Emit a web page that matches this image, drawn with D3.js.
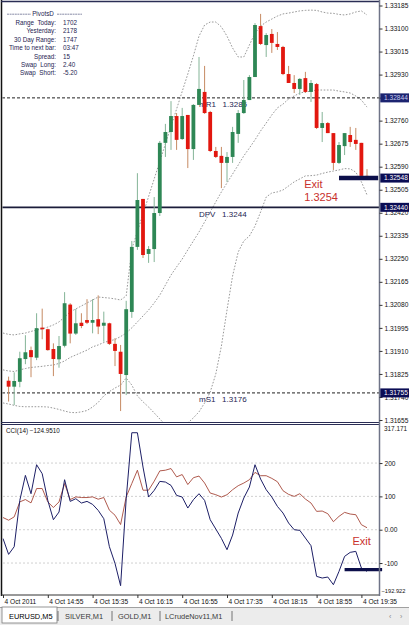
<!DOCTYPE html>
<html>
<head>
<meta charset="utf-8">
<script src="https://cdn.jsdelivr.net/npm/d3@7"></script>
<style>
html, body { margin: 0; padding: 0; background: #fff; }
svg { display: block; font-family: "Liberation Sans", Arial, sans-serif; }
</style>
</head>
<body>
<svg id="chart" width="409" height="625"></svg>
<script>
// EURUSD M5, 4 Oct 2011, one bar every 5 minutes starting 14:15
var timeTicks = [0, 8, 16, 24, 32, 40, 48, 56, 64];
var timeLabels = ["4 Oct 2011", "4 Oct 14:55", "4 Oct 15:35", "4 Oct 16:15", "4 Oct 16:55",
                  "4 Oct 17:35", "4 Oct 18:15", "4 Oct 18:55", "4 Oct 19:35"];

var opens = [null, 1.31800, 1.31778, 1.31796, 1.31880, 1.31913, 1.31885, 1.31996, 1.31990, 1.31917,
  1.31879, 1.31929, 1.32081, 1.31974, 1.32014, 1.32024, 1.32014, 1.32027, 1.32003, 1.32012,
  1.31936, 1.31907, 1.31821, 1.32054, 1.32294, 1.32471, 1.32268, 1.32286, 1.32419, 1.32678,
  1.32718, 1.32777, 1.32692, 1.32781, 1.32655, 1.32818, 1.32866, 1.32792, 1.32648, 1.32630,
  1.32604, 1.32626, 1.32711, 1.32788, 1.32836, 1.32921, 1.33109, 1.33039, 1.33080, 1.33043,
  1.33032, 1.32932, 1.32899, 1.32877, 1.32917, 1.32866, 1.32895, 1.32733, 1.32751, 1.32714,
  1.32604, 1.32666, 1.32707, 1.32689, 1.32678, 1.32556];
var highs = [null, 1.31815, 1.31831, 1.31907, 1.31968, 1.31926, 1.32049, 1.32066, 1.31992, 1.31938,
  1.31965, 1.32127, 1.32086, 1.32065, 1.32049, 1.32101, 1.32101, 1.32115, 1.32055, 1.32014,
  1.31957, 1.31932, 1.32095, 1.32316, 1.32566, 1.32471, 1.32297, 1.32478, 1.32685, 1.32748,
  1.32832, 1.32788, 1.32807, 1.32781, 1.32821, 1.32995, 1.32962, 1.32796, 1.32663, 1.32663,
  1.32644, 1.32737, 1.32799, 1.32910, 1.32928, 1.33120, 1.33154, 1.33083, 1.33098, 1.33087,
  1.33036, 1.32962, 1.32928, 1.32917, 1.32940, 1.32910, 1.32899, 1.32792, 1.32755, 1.32714,
  1.32681, 1.32714, 1.32737, 1.32733, 1.32678, 1.32581];
var lows = [null, 1.31723, 1.31710, 1.31776, 1.31861, 1.31813, 1.31876, 1.31953, 1.31911, 1.31817,
  1.31848, 1.31923, 1.31938, 1.31969, 1.31994, 1.32009, 1.31975, 1.31972, 1.31944, 1.31932,
  1.31854, 1.31688, 1.31747, 1.32032, 1.32283, 1.32253, 1.32235, 1.32238, 1.32408, 1.32626,
  1.32652, 1.32652, 1.32689, 1.32585, 1.32615, 1.32818, 1.32785, 1.32644, 1.32622, 1.32511,
  1.32534, 1.32604, 1.32678, 1.32785, 1.32836, 1.32921, 1.33039, 1.32995, 1.33010, 1.33021,
  1.32928, 1.32899, 1.32862, 1.32855, 1.32862, 1.32829, 1.32729, 1.32681, 1.32714, 1.32578,
  1.32600, 1.32633, 1.32663, 1.32652, 1.32552, 1.32548];
var closes = [null, 1.31778, 1.31799, 1.31883, 1.31905, 1.31887, 1.31994, 1.31990, 1.31913, 1.31880,
  1.31928, 1.32086, 1.31974, 1.32012, 1.32002, 1.32014, 1.32024, 1.32000, 1.32014, 1.31936,
  1.31910, 1.31825, 1.32064, 1.32294, 1.32467, 1.32264, 1.32286, 1.32419, 1.32678, 1.32718,
  1.32777, 1.32689, 1.32777, 1.32655, 1.32818, 1.32877, 1.32788, 1.32648, 1.32626, 1.32604,
  1.32626, 1.32718, 1.32788, 1.32836, 1.32921, 1.33113, 1.33043, 1.33076, 1.33047, 1.33032,
  1.32932, 1.32899, 1.32877, 1.32914, 1.32866, 1.32899, 1.32733, 1.32751, 1.32714, 1.32604,
  1.32670, 1.32714, 1.32681, 1.32674, 1.32556, 1.32548];

// bollinger bands (dotted)
var bandUpper = [1.31976, 1.31971, 1.31969, 1.31973, 1.31976, 1.31982, 1.31987, 1.31991, 1.31998, 1.32006,
  1.32017, 1.32035, 1.32054, 1.32065, 1.32076, 1.32087, 1.32098, 1.32109, 1.32107, 1.32105,
  1.32102, 1.32098, 1.32113, 1.32286, 1.32351, 1.32415, 1.32480, 1.32545, 1.32610, 1.32674,
  1.32739, 1.32803, 1.32868, 1.32932, 1.32999, 1.33072, 1.33113, 1.33124, 1.33124, 1.33106,
  1.33072, 1.33028, 1.32995, 1.32995, 1.33039, 1.33083, 1.33109, 1.33124, 1.33135, 1.33146,
  1.33154, 1.33157, 1.33161, 1.33165, 1.33167, 1.33168, 1.33167, 1.33161, 1.33157, 1.33156,
  1.33152, 1.33150, 1.33154, 1.33161, 1.33165, 1.33150];
var bandMiddle = [1.31840, 1.31836, 1.31834, 1.31840, 1.31845, 1.31849, 1.31851, 1.31853, 1.31856, 1.31858,
  1.31864, 1.31873, 1.31886, 1.31895, 1.31904, 1.31913, 1.31925, 1.31932, 1.31941, 1.31947,
  1.31952, 1.31963, 1.31976, 1.31995, 1.32017, 1.32039, 1.32061, 1.32087, 1.32116, 1.32153,
  1.32190, 1.32220, 1.32249, 1.32283, 1.32316, 1.32349, 1.32386, 1.32423, 1.32460, 1.32497,
  1.32530, 1.32563, 1.32596, 1.32630, 1.32659, 1.32689, 1.32722, 1.32751, 1.32781, 1.32807,
  1.32821, 1.32840, 1.32851, 1.32862, 1.32866, 1.32869, 1.32873, 1.32873, 1.32873, 1.32873,
  1.32869, 1.32866, 1.32862, 1.32851, 1.32836, 1.32810];
var bandLower = [1.31718, 1.31714, 1.31709, 1.31705, 1.31704, 1.31704, 1.31704, 1.31704, 1.31703, 1.31699,
  1.31694, 1.31688, 1.31683, 1.31682, 1.31685, 1.31690, 1.31703, 1.31720, 1.31744, 1.31760,
  1.31773, 1.31784, 1.31810, 1.31784, 1.31744, 1.31722, 1.31703, 1.31681, 1.31659, 1.31637,
  1.31618, 1.31607, 1.31618, 1.31644, 1.31663, 1.31685, 1.31718, 1.31758, 1.31825, 1.31928,
  1.32061, 1.32187, 1.32275, 1.32316, 1.32334, 1.32371, 1.32423, 1.32478, 1.32493, 1.32497,
  1.32504, 1.32519, 1.32534, 1.32545, 1.32556, 1.32557, 1.32559, 1.32565, 1.32570, 1.32574,
  1.32578, 1.32583, 1.32582, 1.32570, 1.32534, 1.32486];

// CCI(14) and the slower red CCI
var cciFast = [-26.5, -74, -51, 88, 163, 108, 195, 168, 88, 30, 53, 150, 85, 93, 80, 85, 76, 58, 33, -51,
  -101, -168, 93, 291, 291, 188, 98, 118, 145, 143, 133, 103, 98, 65, 90, 108, 88, 30, 2, -26,
  -60, -16, 50, 95, 128, 195, 152, 120, 98, 70, 50, 20, 0, -2, -25, -48, -140, -145, -142, -165,
  -125, -80, -68, -65, -115, -124.951];
var cciSlow = [36.5, 28.5, 38.5, 83.5, 90.5, 80.5, 123.5, 123.5, 83.5, 66.5, 83.5, 138.5, 90.5, 98.5, 96.5,
  96.5, 98.5, 91.5, 96.5, 58.5, 43.5, 15.5, 98.5, 138.5, 178.5, 118.5, 118.5, 145.5, 176.5, 178.5,
  183.5, 158.5, 165.5, 135.5, 156, 161, 140, 110, 105, 98, 105, 120, 132, 140, 150, 172, 162, 162,
  154, 144, 117, 106, 100, 108, 92, 80, 55, 56, 48, 24, 40, 52, 47, 45, 15, 6];

var priceTicks = [1.33185, 1.33100, 1.33015, 1.32930, 1.32845, 1.32760, 1.32675, 1.32590, 1.32505, 1.32420,
  1.32335, 1.32250, 1.32165, 1.32080, 1.31995, 1.31910, 1.31825, 1.31740, 1.31655];
var cciTicks = [200, 100, 0, -100];
var cciRange = [-192.922, 317.171];

// pivot levels
var levelNames = ["mR1", "DPV", "mS1"];
var levelValues = [1.32844, 1.32440, 1.31755];
var levelShown = ["1.3285", "1.3244", "1.3176"];

var pivotLabels = ["Range  Today:", "Yesterday:", "30 Day Range:", "Time to next bar:", "Spread:", "Swap  Long:", "Swap  Short:"];
var pivotValues = ["1702", "2178", "1747", "03:47", "15", "2.40", "-5.20"];

var bidPrice = 1.32548;
var exitPrice = 1.3254;
var exitBars = [60, 67];
var exitCci = -120;
var exitCciBars = [61, 67.7];

var svg = d3.select("#chart");
var axisX = 379.5;
var ink = "#1e2452";

var x = d3.scaleLinear().domain([0, 65]).range([3, 367]);
var yP = d3.scaleLinear().domain([1.31655, 1.33185]).range([420, 5.5]);
var yC = d3.scaleLinear().domain(cciRange).range([594, 424]);

var defs = svg.append("defs");
defs.append("clipPath").attr("id", "clipMain").append("rect")
    .attr("x", 2.5).attr("y", 2).attr("width", axisX - 2.5).attr("height", 420.5);
defs.append("clipPath").attr("id", "clipCci").append("rect")
    .attr("x", 2.5).attr("y", 424.5).attr("width", axisX - 2.5).attr("height", 170);

// ---------- main price panel ----------
var main = svg.append("g").attr("clip-path", "url(#clipMain)");

// bands
[bandUpper, bandMiddle, bandLower].forEach(function(band) {
    main.append("path")
        .datum(band)
        .attr("fill", "none")
        .attr("stroke", "#8c8c8c")
        .attr("stroke-width", 0.9)
        .attr("stroke-dasharray", "1.6,1.6")
        .attr("d", d3.line().x(function(d, i) { return x(i); }).y(function(d) { return yP(d); }));
});

// pivot lines
levelValues.forEach(function(v, k) {
    main.append("line")
        .attr("x1", 2).attr("x2", axisX)
        .attr("y1", yP(v)).attr("y2", yP(v))
        .attr("stroke", k === 1 ? "#1b1d3a" : "#202020")
        .attr("stroke-width", k === 1 ? 1.6 : 1)
        .attr("stroke-dasharray", k === 1 ? null : "3,2");
    main.append("text")
        .attr("x", x(35)).attr("y", yP(v) + 9.5)
        .attr("font-size", "8px").attr("fill", ink)
        .attr("xml:space", "preserve")
        .text(levelNames[k] + "   " + levelShown[k]);
});

// candles
var bars = d3.range(opens.length)
    .filter(function(i) { return opens[i] !== null; })
    .map(function(i) { return { i: i, o: opens[i], h: highs[i], l: lows[i], c: closes[i] }; });

var candle = main.selectAll("g.candle").data(bars).enter().append("g").attr("class", "candle");
candle.append("line")
    .attr("x1", function(d) { return x(d.i); })
    .attr("x2", function(d) { return x(d.i); })
    .attr("y1", function(d) { return yP(d.h); })
    .attr("y2", function(d) { return yP(d.l); })
    .attr("stroke", function(d) { return d.c > d.o ? "#84b497" : "#c68a63"; })
    .attr("stroke-width", 1);
candle.append("rect")
    .attr("x", function(d) { return x(d.i) - 1.9; })
    .attr("width", 3.8)
    .attr("y", function(d) { return yP(Math.max(d.o, d.c)); })
    .attr("height", function(d) { return Math.max(1, Math.abs(yP(d.o) - yP(d.c))); })
    .attr("fill", function(d) { return d.c > d.o ? "#2e8755" : "#e2170f"; });

// exit marker
main.append("line")
    .attr("x1", x(exitBars[0])).attr("x2", x(exitBars[1]))
    .attr("y1", yP(bidPrice)).attr("y2", yP(bidPrice))
    .attr("stroke", "#0c0f4a").attr("stroke-width", 4.5);
main.append("text")
    .attr("x", x(53.8)).attr("y", yP(bidPrice) + 9.5)
    .attr("font-size", "11px").attr("fill", "#c9302c")
    .text("Exit");
main.append("text")
    .attr("x", x(53.8)).attr("y", yP(bidPrice) + 22.5)
    .attr("font-size", "11px").attr("fill", "#c9302c")
    .text(d3.format(".4f")(exitPrice));

// pivots info block
var info = svg.append("g").attr("font-size", "6.3px").attr("fill", ink);
info.append("text").attr("x", 43).attr("y", 16.3).attr("text-anchor", "middle").text("PivotsD");
info.append("line").attr("x1", 7).attr("x2", 31).attr("y1", 14.2).attr("y2", 14.2)
    .attr("stroke", "#6a6f90").attr("stroke-width", 0.8).attr("stroke-dasharray", "2,0.6");
info.append("line").attr("x1", 57).attr("x2", 82).attr("y1", 14.2).attr("y2", 14.2)
    .attr("stroke", "#6a6f90").attr("stroke-width", 0.8).attr("stroke-dasharray", "2,0.6");
pivotLabels.forEach(function(lab, k) {
    var yy = 25 + k * 8.4;
    info.append("text").attr("x", 56).attr("y", yy).attr("text-anchor", "end")
        .attr("xml:space", "preserve").text(lab);
    info.append("text").attr("x", 63).attr("y", yy).text(pivotValues[k]);
});

// ---------- CCI panel ----------
var sub = svg.append("g").attr("clip-path", "url(#clipCci)");
sub.selectAll("line.grid").data(cciTicks).enter().append("line")
    .attr("class", "grid")
    .attr("x1", 3).attr("x2", axisX)
    .attr("y1", function(d) { return yC(d); }).attr("y2", function(d) { return yC(d); })
    .attr("stroke", "#c4c4c4").attr("stroke-width", 0.8).attr("stroke-dasharray", "2,2");

sub.append("path").datum(cciSlow)
    .attr("fill", "none").attr("stroke", "#a6473a").attr("stroke-width", 0.9)
    .attr("d", d3.line().x(function(d, i) { return x(i); }).y(function(d) { return yC(d); }));
sub.append("path").datum(cciFast)
    .attr("fill", "none").attr("stroke", "#1d1f66").attr("stroke-width", 1)
    .attr("d", d3.line().x(function(d, i) { return x(i); }).y(function(d) { return yC(d); }));

svg.append("text").attr("x", 6).attr("y", 432.5)
    .attr("font-size", "6.3px").attr("fill", "#111")
    .text("CCI(14) " + d3.format(".4f")(cciFast[cciFast.length - 1]));

svg.append("line")
    .attr("x1", x(exitCciBars[0])).attr("x2", x(exitCciBars[1]))
    .attr("y1", yC(exitCci)).attr("y2", yC(exitCci))
    .attr("stroke", "#0c0f4a").attr("stroke-width", 3.2);
svg.append("text").attr("x", x(62.4)).attr("y", yC(exitCci) - 25)
    .attr("font-size", "11px").attr("fill", "#c9302c").text("Exit");

// ---------- frame ----------
var frame = svg.append("g").attr("fill", "none");
frame.append("line").attr("x1", 1.5).attr("x2", 1.5).attr("y1", 0).attr("y2", 596).attr("stroke", "#111").attr("stroke-width", 1.5);
frame.append("line").attr("x1", 1).attr("x2", axisX).attr("y1", 1.5).attr("y2", 1.5).attr("stroke", "#2a2d55").attr("stroke-width", 1.5);
frame.append("line").attr("x1", 1).attr("x2", axisX).attr("y1", 422.5).attr("y2", 422.5).attr("stroke", "#2a2d55").attr("stroke-width", 1.2);
frame.append("line").attr("x1", 1).attr("x2", axisX).attr("y1", 424.5).attr("y2", 424.5).attr("stroke", "#2a2d55").attr("stroke-width", 1);
frame.append("line").attr("x1", 1).attr("x2", axisX).attr("y1", 595).attr("y2", 595).attr("stroke", "#333").attr("stroke-width", 1);
frame.append("line").attr("x1", axisX).attr("x2", axisX).attr("y1", 0).attr("y2", 596).attr("stroke", "#6f7488").attr("stroke-width", 1.5);

// ---------- axes ----------
function styleAxis(g) {
    g.select(".domain").remove();
    g.selectAll(".tick line").attr("stroke", "#333");
    g.selectAll(".tick text").attr("fill", "#111").style("font-size", "6.6px")
        .style("font-family", "'Liberation Sans', Arial, sans-serif");
}

svg.append("g")
    .attr("transform", "translate(" + axisX + ",0)")
    .call(d3.axisRight(yP).tickValues(priceTicks).tickFormat(d3.format(".5f")).tickSize(3).tickPadding(2))
    .call(styleAxis);

svg.append("g")
    .attr("transform", "translate(" + axisX + ",0)")
    .call(d3.axisRight(yC).tickValues(cciTicks)
        .tickFormat(function(d) { return d === 0 ? "0.00" : String(d); })
        .tickSize(3).tickPadding(2))
    .call(styleAxis);

var cciEnds = svg.append("g").attr("fill", "#111");
cciEnds.append("text").attr("x", axisX + 4.5).attr("y", yC(cciRange[1]) + 7)
    .attr("font-size", "6.4px").text(d3.format(".3f")(cciRange[1]));
cciEnds.append("text").attr("x", axisX + 2).attr("y", yC(cciRange[0]) - 1.5)
    .attr("font-size", "5.7px").text(d3.format(".3f")(cciRange[0]));

var tAxis = svg.append("g")
    .attr("transform", "translate(0,595)")
    .call(d3.axisBottom(x).tickValues(timeTicks)
        .tickFormat(function(d, i) { return timeLabels[i]; })
        .tickSize(3).tickPadding(1))
    .call(styleAxis);
tAxis.selectAll(".tick text").attr("text-anchor", "start").attr("dx", "1");

// highlighted price labels
var marks = [
    { v: levelValues[0], fill: "#1c2470", txt: "#c9cdf0" },
    { v: bidPrice, fill: "#0b0d55", txt: "#fff" },
    { v: levelValues[1], fill: "#0b0d55", txt: "#fff" },
    { v: levelValues[2], fill: "#0b0d55", txt: "#fff" }
];
var hl = svg.selectAll("g.hl").data(marks).enter().append("g").attr("class", "hl");
hl.append("rect")
    .attr("x", axisX + 0.8).attr("width", 409 - axisX)
    .attr("y", function(d) { return yP(d.v) - 4.5; }).attr("height", 9)
    .attr("fill", function(d) { return d.fill; });
hl.append("text")
    .attr("x", axisX + 4.5).attr("y", function(d) { return yP(d.v) + 2.4; })
    .attr("font-size", "6.6px").attr("fill", function(d) { return d.txt; })
    .text(function(d) { return d3.format(".5f")(d.v); });

// ---------- symbol tabs ----------
var tabs = ["EURUSD,M5", "SILVER,M1", "GOLD,M1", "LCrudeNov11,M1"];
var tabX = [9, 65, 118, 165];
var tabSep = [58, 112, 160, 232];
var bar = svg.append("g");
bar.append("rect").attr("x", 0).attr("y", 607).attr("width", 409).attr("height", 18).attr("fill", "#ececec");
bar.append("line").attr("x1", 0).attr("x2", 409).attr("y1", 607.5).attr("y2", 607.5).attr("stroke", "#a0a0a0");
bar.append("rect").attr("x", 2).attr("y", 607).attr("width", 55).attr("height", 16)
    .attr("fill", "#fff").attr("stroke", "#7c7c7c").attr("stroke-width", 0.8);
bar.selectAll("text.tab").data(tabs).enter().append("text")
    .attr("class", "tab")
    .attr("x", function(d, i) { return tabX[i]; }).attr("y", 618.5)
    .attr("font-size", "7.4px")
    .attr("fill", function(d, i) { return i === 0 ? "#000" : "#3a3a3a"; })
    .text(function(d) { return d; });
bar.selectAll("line.sep").data(tabSep).enter().append("line")
    .attr("class", "sep")
    .attr("x1", function(d) { return d; }).attr("x2", function(d) { return d; })
    .attr("y1", 611).attr("y2", 621).attr("stroke", "#555").attr("stroke-width", 0.8);
bar.append("text").attr("x", 389).attr("y", 618.5).attr("font-size", "7px").attr("fill", "#888").text("\u2039");
bar.append("text").attr("x", 400).attr("y", 618.5).attr("font-size", "7px").attr("fill", "#888").text("\u203A");
</script>
</body>
</html>
